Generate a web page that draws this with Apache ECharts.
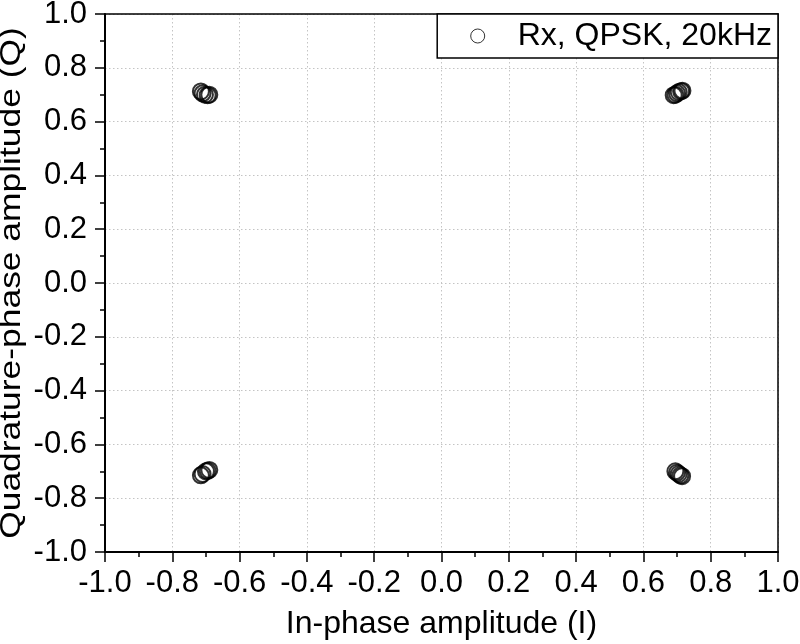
<!DOCTYPE html>
<html>
<head>
<meta charset="utf-8">
<script src="https://cdn.jsdelivr.net/npm/echarts@6/dist/echarts.min.js"></script>
<style>html,body{margin:0;padding:0;background:#fff;}#c{width:800px;height:644px;}</style>
</head>
<body>
<div id="c"></div>
<script>
var seriesName = 'Rx, QPSK, 20kHz';
var xAxisName = 'In-phase amplitude (I)';
var yAxisName = 'Quadrature-phase amplitude (Q)';
// received symbols: in-phase (I) and quadrature (Q) values
var rxI = [-0.715, -0.710, -0.703, -0.695, -0.690,
            0.690,  0.695,  0.700,  0.705,  0.712,  0.716,
           -0.715, -0.710, -0.700, -0.695, -0.690,
            0.695,  0.700,  0.705,  0.710,  0.715];
var rxQ = [ 0.712,  0.705,  0.700,  0.698,  0.700,
            0.698,  0.700,  0.705,  0.710,  0.713,  0.715,
           -0.715, -0.710, -0.700, -0.698, -0.695,
           -0.700, -0.705, -0.710, -0.715, -0.718];
var axisMin = -1.0, axisMax = 1.0, axisStep = 0.2;

var pts = rxI.map(function (v, i) { return [v, rxQ[i]]; });
var font = 'Liberation Sans, Arial, Helvetica, sans-serif';

function axisCommon(name) {
  return {
    type: 'value', min: axisMin, max: axisMax, interval: axisStep,
    name: name, nameLocation: 'middle',
    nameTextStyle: { fontFamily: font, fontSize: 32, color: '#000' },
    axisLine: { show: true, onZero: false, lineStyle: { color: '#000', width: 2 } },
    axisTick: { show: true, inside: false, length: 10, lineStyle: { color: '#000', width: 1.5 } },
    minorTick: { show: true, splitNumber: 2, length: 5, lineStyle: { color: '#000', width: 1.5 } },
    splitLine: { show: true, lineStyle: { color: '#c4c4c4', width: 1, type: [1.5, 2.5] } },
    axisLabel: { fontFamily: font, fontSize: 31, color: '#000', formatter: function (v) { return v.toFixed(1); } }
  };
}
function frameAxis(pos) {
  return {
    type: 'value', min: axisMin, max: axisMax, position: pos,
    axisLine: { show: true, onZero: false, lineStyle: { color: '#000', width: 1.5 } },
    axisTick: { show: false }, axisLabel: { show: false }, splitLine: { show: false }
  };
}

var xa = axisCommon(xAxisName);
xa.nameGap = 56; xa.axisLabel.margin = 16;
var ya = axisCommon('');
ya.axisLabel.margin = 18;

var chart = echarts.init(document.getElementById('c'), null, { renderer: 'canvas' });
chart.setOption({
  animation: false,
  backgroundColor: '#fff',
  grid: { left: 105, right: 22, top: 14, bottom: 92, outerBoundsMode: 'none', containLabel: false },
  legend: {
    right: 22, top: 14, orient: 'horizontal',
    padding: [6, 6, 6, 33],
    borderColor: '#000', borderWidth: 1.5, backgroundColor: '#fff',
    itemWidth: 70, itemHeight: 14, symbolKeepAspect: true,
    textStyle: { fontFamily: font, fontSize: 32, color: '#000' },
    data: [{ name: seriesName, icon: 'circle', itemStyle: { color: 'transparent', borderColor: '#000', borderWidth: 1 } }]
  },
  graphic: [{
    type: 'text', x: 12, y: 283, rotation: Math.PI / 2, scaleX: 1.18, scaleY: 1,
    style: {
      text: yAxisName, font: '30px ' + font, fill: '#000',
      textAlign: 'center', textVerticalAlign: 'middle', align: 'center', verticalAlign: 'middle'
    }
  }],
  xAxis: [xa, frameAxis('top')],
  yAxis: [ya, frameAxis('right')],
  series: [{
    name: seriesName, type: 'scatter', symbol: 'circle', symbolSize: 16,
    itemStyle: { color: 'transparent', borderColor: '#000', borderWidth: 2 },
    data: pts
  }]
});
</script>
</body>
</html>
